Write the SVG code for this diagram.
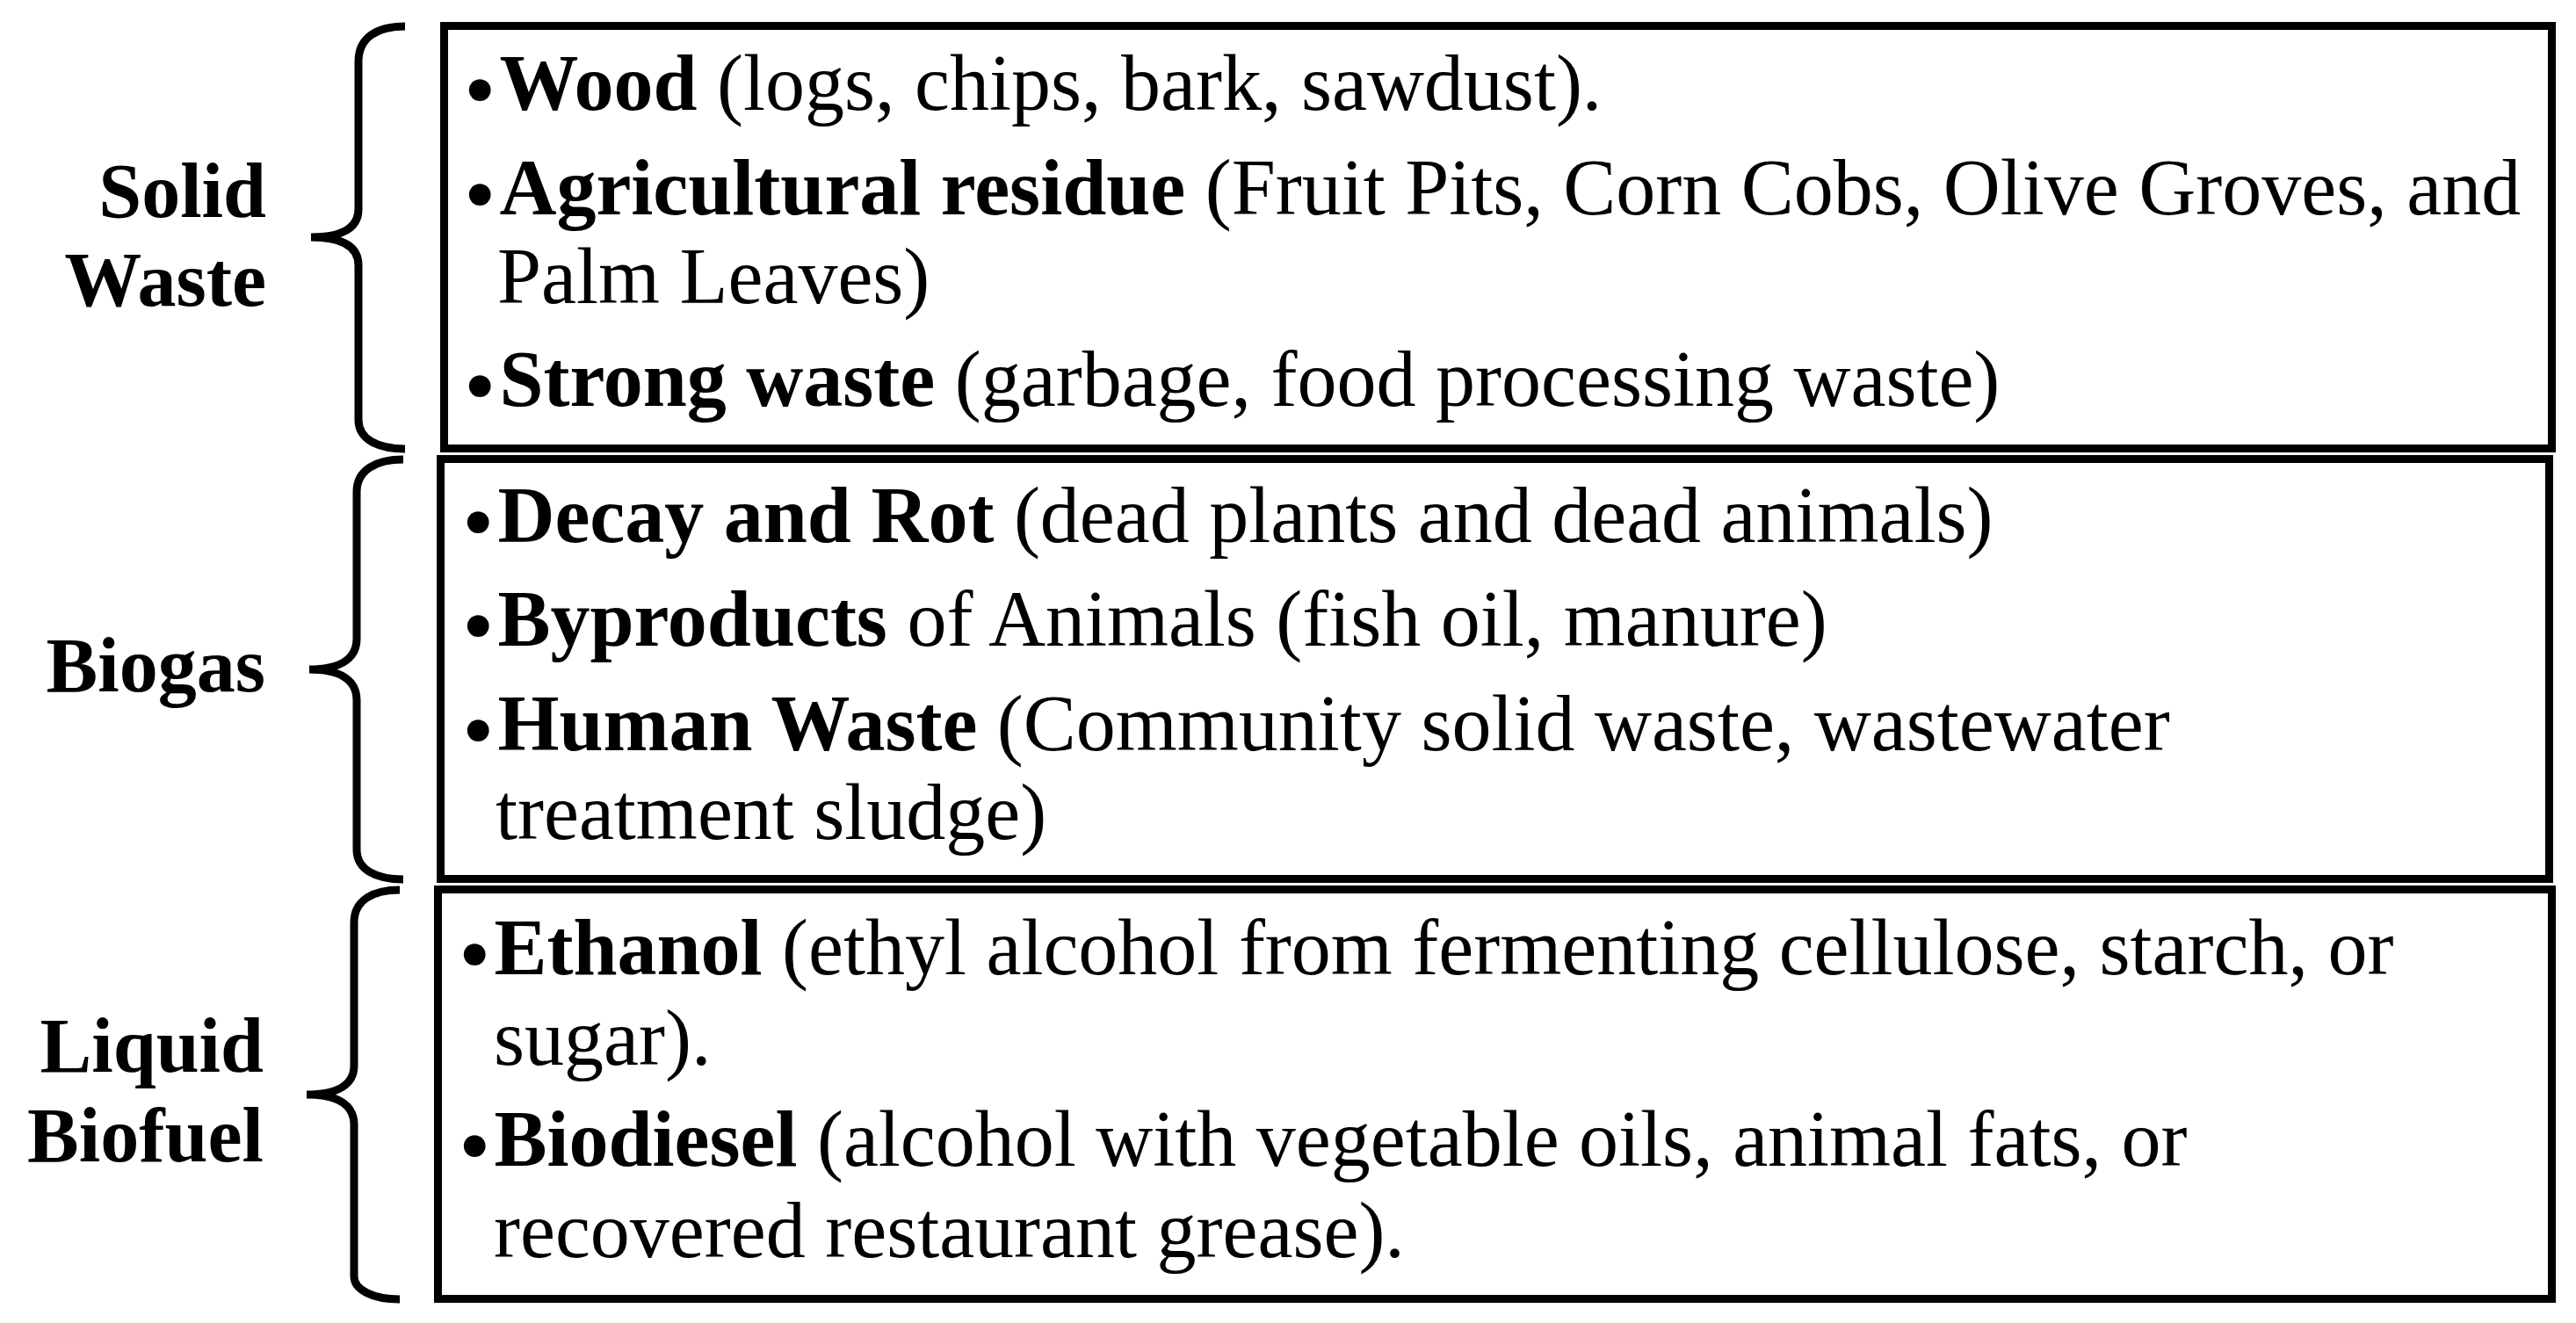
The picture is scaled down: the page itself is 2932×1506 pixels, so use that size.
<svg xmlns="http://www.w3.org/2000/svg" width="2932" height="1506" viewBox="0 0 2932 1506">
<style>
.box{fill:#fff;stroke:#000;stroke-width:9}
.brace{fill:none;stroke:#000;stroke-width:9;stroke-linejoin:bevel;stroke-linecap:butt}
.lbl{font-family:"Liberation Serif","Times New Roman",serif;font-weight:bold;font-size:88px;fill:#000;text-anchor:end}
.txt{font-family:"Liberation Serif","Times New Roman",serif;font-size:90px;fill:#000}
.b{font-weight:bold}
.bul{font-size:104px;baseline-shift:-12px}
</style>
<rect width="2932" height="1506" fill="#fff"/>
<g id="connectors">
<path class="brace" d="M461,30 C430,30 408,42 408,70 L408,238 C408,258 392,270 354,270 C392,270 408,282 408,302 L408,478 C408,500 430,511 461,511"/>
<path class="brace" d="M459,523 C428,523 406,535 406,560 L406,727 C406,748 390,762 352,762 C390,762 406,776 406,797 L406,967 C406,990 428,1001 459,1001"/>
<path class="brace" d="M455,1013 C424,1013 403,1025 403,1050 L403,1213 C403,1233 387,1246 349,1246 C387,1246 403,1259 403,1280 L403,1453 C403,1468 424,1479 455,1479"/>
</g>
<g id="solid-waste">
<text class="lbl" x="303" y="247">Solid</text>
<text class="lbl" x="303" y="348">Waste</text>
<rect class="box" x="505.5" y="29.5" width="2399" height="481"/>
<text class="txt" x="528" y="125"><tspan class="bul">•</tspan><tspan class="b" dx="4">Wood</tspan> (logs, chips, bark, sawdust).</text>
<text class="txt" x="528" y="244"><tspan class="bul">•</tspan><tspan class="b" dx="4">Agricultural residue</tspan> (Fruit Pits, Corn Cobs, Olive Groves, and</text>
<text class="txt" x="566" y="345">Palm Leaves)</text>
<text class="txt" x="528" y="462"><tspan class="bul">•</tspan><tspan class="b" dx="4">Strong waste</tspan> (garbage, food processing waste)</text>
</g>
<g id="biogas">
<text class="lbl" x="302" y="787">Biogas</text>
<rect class="box" x="501.5" y="522.5" width="2400" height="478"/>
<text class="txt" x="526" y="617"><tspan class="bul">•</tspan><tspan class="b" dx="4">Decay and Rot</tspan> (dead plants and dead animals)</text>
<text class="txt" x="526" y="735"><tspan class="bul">•</tspan><tspan class="b" dx="4">Byproducts</tspan> of Animals (fish oil, manure)</text>
<text class="txt" x="526" y="854"><tspan class="bul">•</tspan><tspan class="b" dx="4">Human Waste</tspan> (Community solid waste, wastewater</text>
<text class="txt" x="564" y="955">treatment sludge)</text>
</g>
<g id="liquid-biofuel">
<text class="lbl" x="300" y="1220">Liquid</text>
<text class="lbl" x="300" y="1322">Biofuel</text>
<rect class="box" x="498.5" y="1012.5" width="2406" height="466"/>
<text class="txt" x="522" y="1109"><tspan class="bul">•</tspan><tspan class="b" dx="4">Ethanol</tspan> (ethyl alcohol from fermenting cellulose, starch, or</text>
<text class="txt" x="562" y="1212">sugar).</text>
<text class="txt" x="522" y="1327"><tspan class="bul">•</tspan><tspan class="b" dx="4">Biodiesel</tspan> (alcohol with vegetable oils, animal fats, or</text>
<text class="txt" x="562" y="1431">recovered restaurant grease).</text>
</g>
</svg>
